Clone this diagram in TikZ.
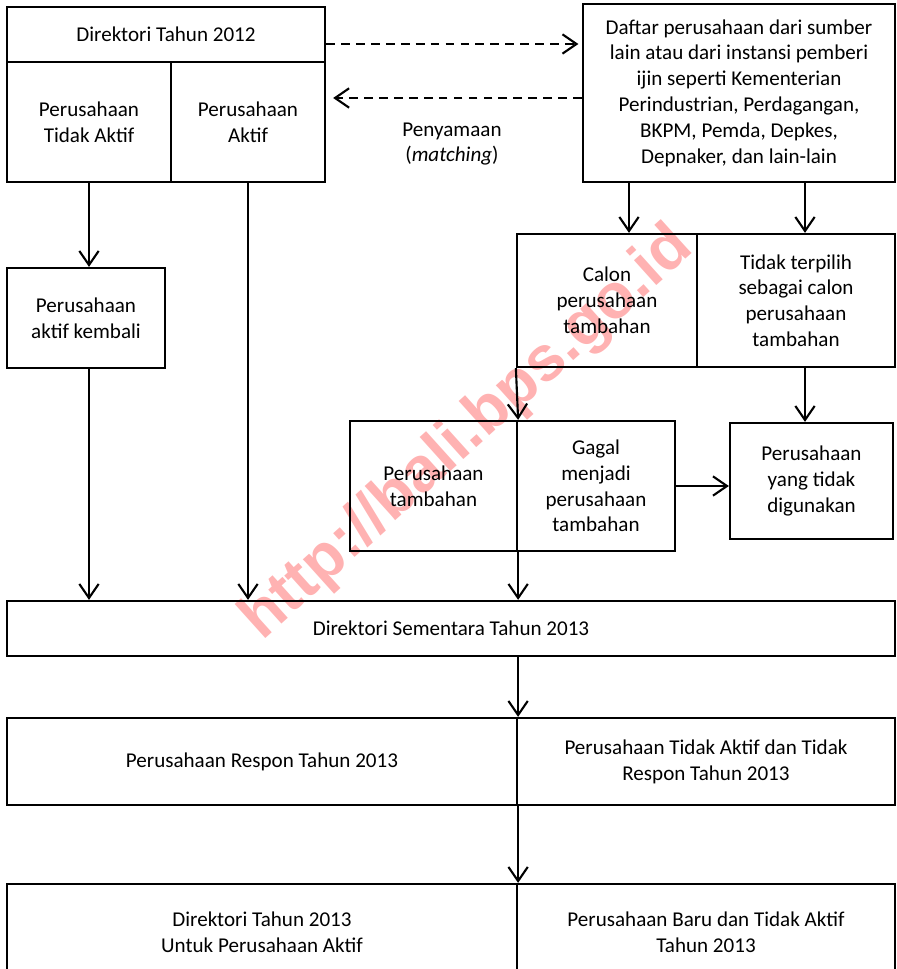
\documentclass[tikz,border=0pt]{standalone}
\usepackage{fontspec}
\setmainfont{Carlito}
\newfontfamily\wmfont{Liberation Sans}
\usetikzlibrary{arrows.meta}
\tikzset{
  cell/.style = {draw, line width=1.3pt, align=center, inner sep=2pt},
  arr/.style = {line width=1.2pt, -{Straight Barb[length=8pt,width=11pt]}},
  dasharr/.style = {arr, dash pattern=on 5pt off 3.5pt}
}
\begin{document}
\begin{tikzpicture}[x=0.02cm, y=-0.02cm, font=\fontsize{12}{14.7}\selectfont]
\useasboundingbox (0,0) rectangle (896,969);
\clip (0,0) rectangle (896,969);

\node[rotate=42, text=red!30, font=\wmfont\bfseries\fontsize{36}{40}\selectfont] (wm) at (468,434) {http://bali.bps.go.id};

\node[cell, minimum width=6.36cm, minimum height=1.10cm] (d12) at (166,34.5) {Direktori Tahun 2012};
\node[cell, minimum width=3.28cm, minimum height=2.40cm] (pta) at (89,122) {Perusahaan\\Tidak Aktif};
\node[cell, minimum width=3.08cm, minimum height=2.40cm] (pa) at (248,122) {Perusahaan\\Aktif};
\node[cell, minimum width=6.24cm, minimum height=3.56cm] (daftar) at (739,93) {Daftar perusahaan dari sumber\\lain atau dari instansi pemberi\\ijin seperti Kementerian\\Perindustrian, Perdagangan,\\BKPM, Pemda, Depkes,\\Depnaker, dan lain-lain};
\node[align=center] (match) at (452,144) {Penyamaan\\(\textit{matching})};

\node[cell, minimum width=3.60cm, minimum height=2.66cm] (calon) at (607,300.5) {Calon\\perusahaan\\tambahan};
\node[cell, minimum width=3.96cm, minimum height=2.66cm] (tidak) at (796,300.5) {Tidak terpilih\\sebagai calon\\perusahaan\\tambahan};
\node[cell, minimum width=3.16cm, minimum height=2.00cm] (kembali) at (86,318) {Perusahaan\\aktif kembali};
\node[cell, minimum width=3.34cm, minimum height=2.60cm] (tambah) at (433.5,486) {Perusahaan\\tambahan};
\node[cell, minimum width=3.16cm, minimum height=2.60cm] (gagal) at (596,486) {Gagal\\menjadi\\perusahaan\\tambahan};
\node[cell, minimum width=3.26cm, minimum height=2.32cm] (guna) at (811.5,481) {Perusahaan\\yang tidak\\digunakan};

\node[cell, minimum width=17.76cm, minimum height=1.10cm] (sementara) at (451,628.5) {Direktori Sementara Tahun 2013};
\node[cell, minimum width=10.20cm, minimum height=1.74cm] (respon) at (262,761.5) {Perusahaan Respon Tahun 2013};
\node[cell, minimum width=7.56cm, minimum height=1.74cm] (tdkrespon) at (706,761.5) {Perusahaan Tidak Aktif dan Tidak\\Respon Tahun 2013};
\node[cell, minimum width=10.20cm, minimum height=1.92cm] (dir13) at (262,932) {Direktori Tahun 2013\\Untuk Perusahaan Aktif};
\node[cell, minimum width=7.56cm, minimum height=1.92cm] (baru) at (706,932) {Perusahaan Baru dan Tidak Aktif\\Tahun 2013};

\draw[dasharr, shorten >=2pt] (d12.east |- 0,44) -- (daftar.west |- 0,44);
\draw[dasharr, shorten >=4pt] (daftar.west |- 0,98) -- (pa.east |- 0,98);
\draw[arr] (daftar.south -| 629,0) -- (calon.north -| 629,0);
\draw[arr] (daftar.south -| 805,0) -- (tidak.north -| 805,0);
\draw[arr] (calon.south west) -- (tambah.north east);
\draw[arr] (tidak.south -| 805,0) -- (guna.north -| 805,0);
\draw[arr] (gagal.east) -- (gagal.east -| guna.west);
\draw[arr] (pta.south) -- (pta.south |- kembali.north);
\draw[arr] (pta.south |- kembali.south) -- (pta.south |- sementara.north);
\draw[arr] (pa.south) -- (pa.south |- sementara.north);
\draw[arr] (tambah.south east) -- (tambah.south east |- sementara.north);
\draw[arr] (sementara.south -| respon.east) -- (respon.north east);
\draw[arr] (respon.south east) -- (dir13.north east);

\end{tikzpicture}
\end{document}
